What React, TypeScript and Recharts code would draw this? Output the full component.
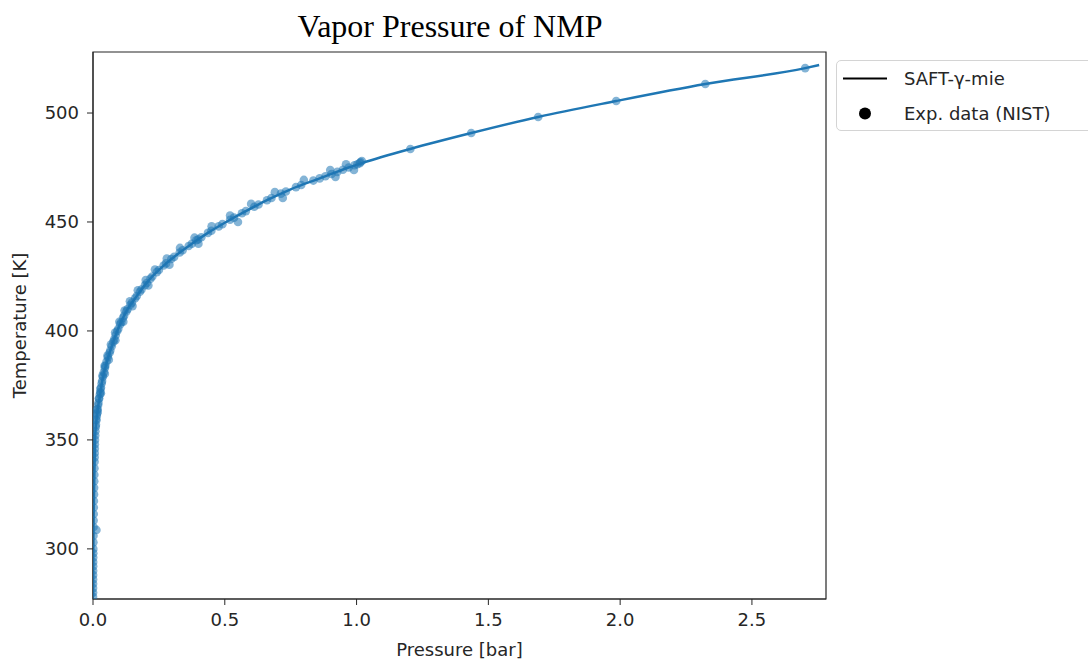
import React from "react";
import {
  ComposedChart,
  Legend,
  Line,
  ReferenceArea,
  Scatter,
  XAxis,
  YAxis,
} from "recharts";

// SAFT-γ-mie model curve, [pressure in bar, temperature in K]
const saftCurve: [number, number][] = [
  [0.0002, 278], [0.0006, 290], [0.0013, 300], [0.0025, 315], [0.0045, 330],
  [0.0062, 340], [0.0076, 350], [0.01, 355], [0.014, 360], [0.019, 365],
  [0.026, 370], [0.032, 375], [0.04, 380], [0.051, 385], [0.063, 390],
  [0.077, 395], [0.092, 400], [0.11, 405], [0.131, 410], [0.16, 415],
  [0.19, 420], [0.225, 425], [0.268, 430], [0.318, 435], [0.375, 440],
  [0.436, 445], [0.505, 450], [0.58, 455], [0.66, 460], [0.75, 465],
  [0.86, 470], [0.97, 475], [1.02, 477], [1.204, 483.5], [1.435, 490.8],
  [1.689, 498.2], [1.985, 505.5], [2.323, 513.3], [2.702, 520.6], [2.755, 522],
];

// NIST experimental points, low temperature part (pressure close to zero)
const nistLow: [number, number][] = [
  [0.0002, 278], [0.0003, 280], [0.0003, 282], [0.0004, 284], [0.0004, 286],
  [0.0005, 288], [0.0006, 290], [0.0007, 292], [0.0008, 294], [0.0009, 296],
  [0.0011, 298], [0.0013, 300], [0.0015, 303], [0.0018, 306], [0.013, 308.7],
  [0.0021, 310], [0.0024, 313], [0.0028, 316], [0.0031, 319], [0.0035, 322],
  [0.0039, 325], [0.0043, 328], [0.0047, 331], [0.0051, 334], [0.0055, 337],
  [0.006, 340], [0.0063, 342], [0.0066, 344], [0.0069, 346], [0.0072, 348],
  [0.0076, 350],
];

// NIST experimental points, 350 - 400 K
const nistMid: [number, number][] = [
  [0.0085, 352], [0.0092, 354], [0.0105, 356], [0.0112, 357], [0.0128, 359],
  [0.0145, 361], [0.0152, 362], [0.0172, 364], [0.0195, 366], [0.0205, 367],
  [0.0235, 369], [0.0262, 371], [0.0275, 372], [0.0302, 374], [0.033, 376],
  [0.0345, 377], [0.0375, 379], [0.041, 381], [0.045, 383], [0.047, 384],
  [0.0515, 386], [0.0565, 388], [0.063, 390], [0.0655, 391], [0.071, 393],
  [0.077, 395], [0.08, 396], [0.086, 398], [0.092, 400],
];

// NIST experimental points, 400 K and above
const nistHigh: [number, number][] = [
  [0.096, 401], [0.103, 403], [0.107, 404], [0.114, 406], [0.118, 407],
  [0.127, 409], [0.131, 410], [0.142, 412], [0.148, 413], [0.16, 415],
  [0.166, 416], [0.178, 418], [0.184, 419], [0.197, 421], [0.204, 422],
  [0.218, 424], [0.225, 425], [0.242, 427], [0.25, 428], [0.268, 430],
  [0.277, 431], [0.297, 433], [0.308, 434], [0.329, 436], [0.34, 437],
  [0.363, 439], [0.375, 440], [0.392, 441.6], [0.399, 442], [0.411, 443],
  [0.436, 445], [0.449, 446], [0.477, 448], [0.491, 449], [0.52, 451],
  [0.535, 452], [0.565, 454], [0.58, 455], [0.612, 457], [0.628, 458],
  [0.66, 460], [0.677, 461], [0.713, 463], [0.732, 464], [0.77, 466],
  [0.79, 467], [0.836, 469], [0.86, 470], [0.882, 471], [0.905, 472],
  [0.927, 473], [0.948, 474], [0.97, 475], [0.992, 476], [1.003, 476.5],
  [1.012, 477], [1.015, 477.5], [1.02, 478],
  [1.204, 483.5], [1.435, 490.8], [1.689, 498.2], [1.985, 505.5],
  [2.323, 513.3], [2.702, 520.6],
];

// NIST points that sit a little off the curve (the band is a few pixels wide)
const nistSpread: [number, number][] = [
  [0.012, 359.5], [0.016, 364], [0.022, 369], [0.028, 373.5], [0.036, 379.5],
  [0.044, 384], [0.055, 388.7], [0.068, 393.8], [0.084, 399.3], [0.1, 404.2],
  [0.12, 409.4], [0.14, 413.6], [0.17, 418.7], [0.2, 423.4], [0.235, 428.2],
  [0.28, 433.2], [0.33, 438.1], [0.385, 442.8], [0.45, 448], [0.52, 453],
  [0.6, 458.3], [0.69, 463.7], [0.8, 469.3], [0.9, 473.8], [0.96, 476.5],
  [0.018, 362.8], [0.03, 371.4], [0.045, 380.4], [0.06, 386.8], [0.085, 395.7],
  [0.115, 404.2], [0.15, 411.4], [0.21, 420.9], [0.29, 430.4], [0.4, 440],
  [0.55, 450], [0.72, 461], [0.92, 470.7], [0.99, 473.9],
];

const xTicks = [0, 0.5, 1.0, 1.5, 2.0, 2.5];
const yTicks = [300, 350, 400, 450, 500];

const X_MAX = 2.781;
const Y_MIN = 277;
const Y_MAX = 528;

const BLUE = "#1f77b4";
const INK = "#262626";
const FONT = "DejaVu Sans, sans-serif";

const toRows = (pts: [number, number][]) => pts.map(([p, t]) => ({ p, t }));

const saftRows = toRows(saftCurve);
const nistRows = toRows([...nistLow, ...nistMid, ...nistHigh, ...nistSpread]);

const Dot = (props: any) => (
  <circle cx={props.cx} cy={props.cy} r={4.3} fill={BLUE} fillOpacity={0.55} />
);

const LegendBox = (props: any) => {
  // line entry first, like the original legend
  const items = [...(props.payload ?? [])].sort(
    (a: any, b: any) => (a.type === "line" ? 0 : 1) - (b.type === "line" ? 0 : 1)
  );
  return (
    <div
      style={{
        width: 270,
        height: 71,
        boxSizing: "border-box",
        border: "1px solid #d4d4d4",
        borderRadius: 5,
        background: "#fff",
        fontFamily: FONT,
        fontSize: 18,
        color: INK,
      }}
    >
      {items.map((it: any) => (
        <div key={it.value} style={{ height: 35, display: "flex", alignItems: "center" }}>
          <svg width={66} height={35} style={{ flex: "none" }}>
            {it.type === "line" ? (
              <line x1={6} x2={50} y1={17.5} y2={17.5} stroke="#000" strokeWidth={2.2} />
            ) : (
              <circle cx={28} cy={17.5} r={6} fill="#000" />
            )}
          </svg>
          <span style={{ marginLeft: 1 }}>{it.value}</span>
        </div>
      ))}
    </div>
  );
};

export default function App() {
  return (
    <div
      style={{
        position: "absolute",
        left: 0,
        top: 0,
        width: 1088,
        height: 662,
        overflow: "hidden",
        background: "#fff",
      }}
    >
      <svg
        width={1088}
        height={50}
        style={{ position: "absolute", left: 0, top: 0, pointerEvents: "none" }}
      >
        <text
          x={450}
          y={37}
          textAnchor="middle"
          fontFamily="Liberation Serif, Times New Roman, serif"
          fontSize={32}
          fill="#000"
        >
          Vapor Pressure of NMP
        </text>
      </svg>
      <ComposedChart
        width={1088}
        height={662}
        margin={{ top: 52, right: 262, bottom: 0, left: 0 }}
      >
        <XAxis
          dataKey="p"
          type="number"
          domain={[0, X_MAX]}
          ticks={xTicks}
          allowDataOverflow
          tickFormatter={(v: number) => v.toFixed(1)}
          height={63}
          tickSize={6}
          tickMargin={8}
          stroke={INK}
          tick={{ fill: INK, fontSize: 18, fontFamily: FONT }}
          label={{
            value: "Pressure [bar]",
            position: "insideBottom",
            offset: 6,
            fill: INK,
            fontSize: 18,
            fontFamily: FONT,
          }}
        />
        <YAxis
          dataKey="t"
          type="number"
          domain={[Y_MIN, Y_MAX]}
          ticks={yTicks}
          allowDataOverflow
          width={93}
          tickSize={6}
          tickMargin={8}
          stroke={INK}
          tick={{ fill: INK, fontSize: 18, fontFamily: FONT }}
          label={{
            value: "Temperature [K]",
            angle: -90,
            position: "insideLeft",
            offset: 20,
            fill: INK,
            fontSize: 18,
            fontFamily: FONT,
            style: { textAnchor: "middle" },
          }}
        />
        <ReferenceArea
          x1={0}
          x2={X_MAX}
          y1={Y_MIN}
          y2={Y_MAX}
          fill="none"
          stroke={INK}
          strokeWidth={1.2}
          ifOverflow="visible"
        />
        <Line
          data={saftRows}
          dataKey="t"
          name="SAFT-γ-mie"
          type="monotone"
          stroke={BLUE}
          strokeWidth={2.5}
          dot={false}
          legendType="line"
          isAnimationActive={false}
        />
        <Scatter
          data={nistRows}
          dataKey="t"
          name="Exp. data (NIST)"
          shape={Dot}
          legendType="circle"
          fill={BLUE}
          isAnimationActive={false}
        />
        <Legend
          layout="horizontal"
          verticalAlign="middle"
          align="center"
          content={LegendBox}
          wrapperStyle={{ left: 836, top: 60, width: 270 }}
        />
      </ComposedChart>
    </div>
  );
}
